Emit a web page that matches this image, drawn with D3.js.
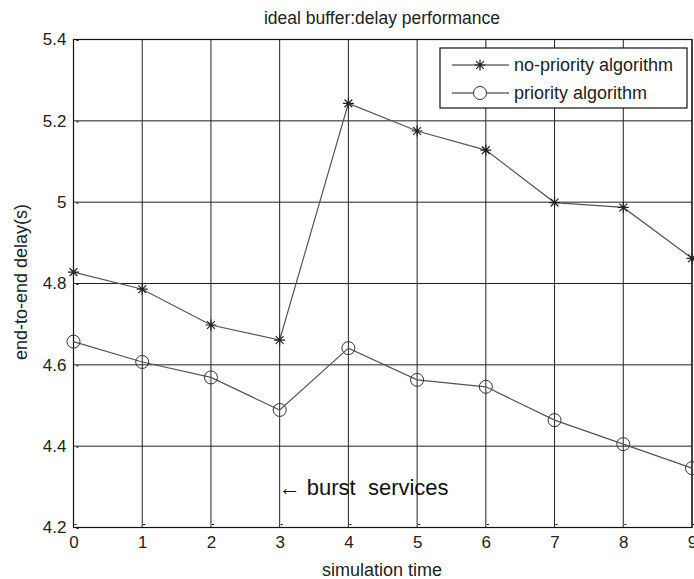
<!DOCTYPE html>
<html>
<head>
<meta charset="utf-8">
<script src="https://cdn.jsdelivr.net/npm/d3@7"></script>
<style>
  body { margin: 0; background: #fff; }
  svg { font-family: "Liberation Sans", Arial, sans-serif; }
</style>
</head>
<body>
<div id="chart"></div>
<script>
let width = 694;
let height = 579;

// values
let times = [0, 1, 2, 3, 4, 5, 6, 7, 8, 9];
let noPriority = [4.828, 4.786, 4.698, 4.661, 5.243, 5.175, 5.128, 4.999, 4.987, 4.862];
let priority = [4.657, 4.607, 4.569, 4.489, 4.641, 4.563, 4.546, 4.464, 4.405, 4.346];
let yTicks = [4.2, 4.4, 4.6, 4.8, 5, 5.2, 5.4];
let seriesNames = ["no-priority algorithm", "priority algorithm"];

let margin = { left: 73.5, right: 2, top: 39.5, bottom: 51.5 };

let x = d3.scaleLinear().domain([0, 9]).range([margin.left, width - margin.right]);
let y = d3.scaleLinear().domain([4.2, 5.4]).range([height - margin.bottom, margin.top]);

let svg = d3.select("#chart").append("svg")
  .attr("width", width)
  .attr("height", height);

// grid lines
svg.append("g")
  .selectAll("line")
  .data(times)
  .enter().append("line")
    .attr("x1", d => x(d)).attr("x2", d => x(d))
    .attr("y1", y(4.2)).attr("y2", y(5.4))
    .attr("stroke", "#222").attr("stroke-width", 1);

svg.append("g")
  .selectAll("line")
  .data(yTicks)
  .enter().append("line")
    .attr("x1", x(0)).attr("x2", x(9))
    .attr("y1", d => y(d)).attr("y2", d => y(d))
    .attr("stroke", "#222").attr("stroke-width", 1);

// axes
let xAxis = d3.axisBottom(x).tickValues(times).tickSize(0).tickPadding(8).tickFormat(d3.format("d"));
let yAxis = d3.axisLeft(y).tickValues(yTicks).tickSize(0).tickPadding(7).tickFormat(d => String(d));

let gx = svg.append("g").attr("transform", `translate(0,${y(4.2)})`).call(xAxis);
let gy = svg.append("g").attr("transform", `translate(${x(0)},0)`).call(yAxis);
[gx, gy].forEach(g => {
  g.select(".domain").remove();
  g.selectAll("text").attr("font-size", 17).attr("fill", "#222")
    .attr("font-family", "Liberation Sans, Arial, sans-serif");
});

// small inner ticks like matlab
svg.append("g").selectAll("line").data(times).enter().append("line")
  .attr("x1", d => x(d) + 1).attr("x2", d => x(d) + 3)
  .attr("y1", y(4.2) - 3).attr("y2", y(4.2) - 3)
  .attr("stroke", "#000");
svg.append("g").selectAll("line").data(yTicks).enter().append("line")
  .attr("x1", x(0) + 3).attr("x2", x(0) + 5)
  .attr("y1", d => y(d) + 1).attr("y2", d => y(d) + 1)
  .attr("stroke", "#000");

// frame
svg.append("rect")
  .attr("x", x(0)).attr("y", y(5.4))
  .attr("width", x(9) - x(0)).attr("height", y(4.2) - y(5.4))
  .attr("fill", "none").attr("stroke", "#111").attr("stroke-width", 1.2);

let line = d3.line().x((d, i) => x(times[i])).y(d => y(d));

function starPath(r) {
  let p = "";
  for (let k = 0; k < 4; k++) {
    let a = k * Math.PI / 4;
    let dx = r * Math.cos(a), dy = r * Math.sin(a);
    p += `M${-dx},${-dy}L${dx},${dy}`;
  }
  return p;
}

function drawSeries(values, marker) {
  svg.append("path")
    .datum(values)
    .attr("d", line)
    .attr("fill", "none")
    .attr("stroke", "#555")
    .attr("stroke-width", 1.2);

  let pts = svg.append("g").selectAll("g")
    .data(values)
    .enter().append("g")
      .attr("transform", (d, i) => `translate(${x(times[i])},${y(d)})`);
  if (marker === "star") {
    pts.append("path").attr("d", starPath(5.5)).attr("stroke", "#222").attr("stroke-width", 1.2);
  } else {
    pts.append("circle").attr("r", 6.5).attr("fill", "none").attr("stroke", "#333").attr("stroke-width", 1);
  }
}

drawSeries(noPriority, "star");
drawSeries(priority, "circle");

// title and axis labels
svg.append("text")
  .attr("x", 382).attr("y", 24)
  .attr("text-anchor", "middle")
  .attr("font-size", 17.5).attr("fill", "#222")
  .text("ideal buffer:delay performance");

svg.append("text")
  .attr("x", 382).attr("y", 576)
  .attr("text-anchor", "middle")
  .attr("font-size", 18).attr("fill", "#222")
  .text("simulation time");

svg.append("text")
  .attr("transform", "translate(27,282) rotate(-90)")
  .attr("text-anchor", "middle")
  .attr("font-size", 18).attr("fill", "#222")
  .text("end-to-end delay(s)");

// annotation
svg.append("text")
  .attr("x", x(3) - 1).attr("y", 495)
  .attr("font-size", 22).attr("fill", "#111")
  .style("white-space", "pre")
  .text("\u2190 burst  services");

// legend
let legend = svg.append("g");
legend.append("rect")
  .attr("x", 440).attr("y", 48)
  .attr("width", 247).attr("height", 60)
  .attr("fill", "#fff").attr("stroke", "#111").attr("stroke-width", 1.2);

let legY = [65, 93];
seriesNames.forEach((name, i) => {
  legend.append("line")
    .attr("x1", 452).attr("x2", 509)
    .attr("y1", legY[i]).attr("y2", legY[i])
    .attr("stroke", "#222").attr("stroke-width", 1.2);
  if (i === 0) {
    legend.append("path")
      .attr("transform", `translate(480,${legY[i]})`)
      .attr("d", starPath(5.5)).attr("stroke", "#222").attr("stroke-width", 1.2);
  } else {
    legend.append("circle")
      .attr("cx", 480).attr("cy", legY[i]).attr("r", 6.5)
      .attr("fill", "#fff").attr("stroke", "#333");
  }
  legend.append("text")
    .attr("x", 514).attr("y", legY[i] + 6)
    .attr("font-size", 18).attr("fill", "#222")
    .text(name);
});
</script>
</body>
</html>
